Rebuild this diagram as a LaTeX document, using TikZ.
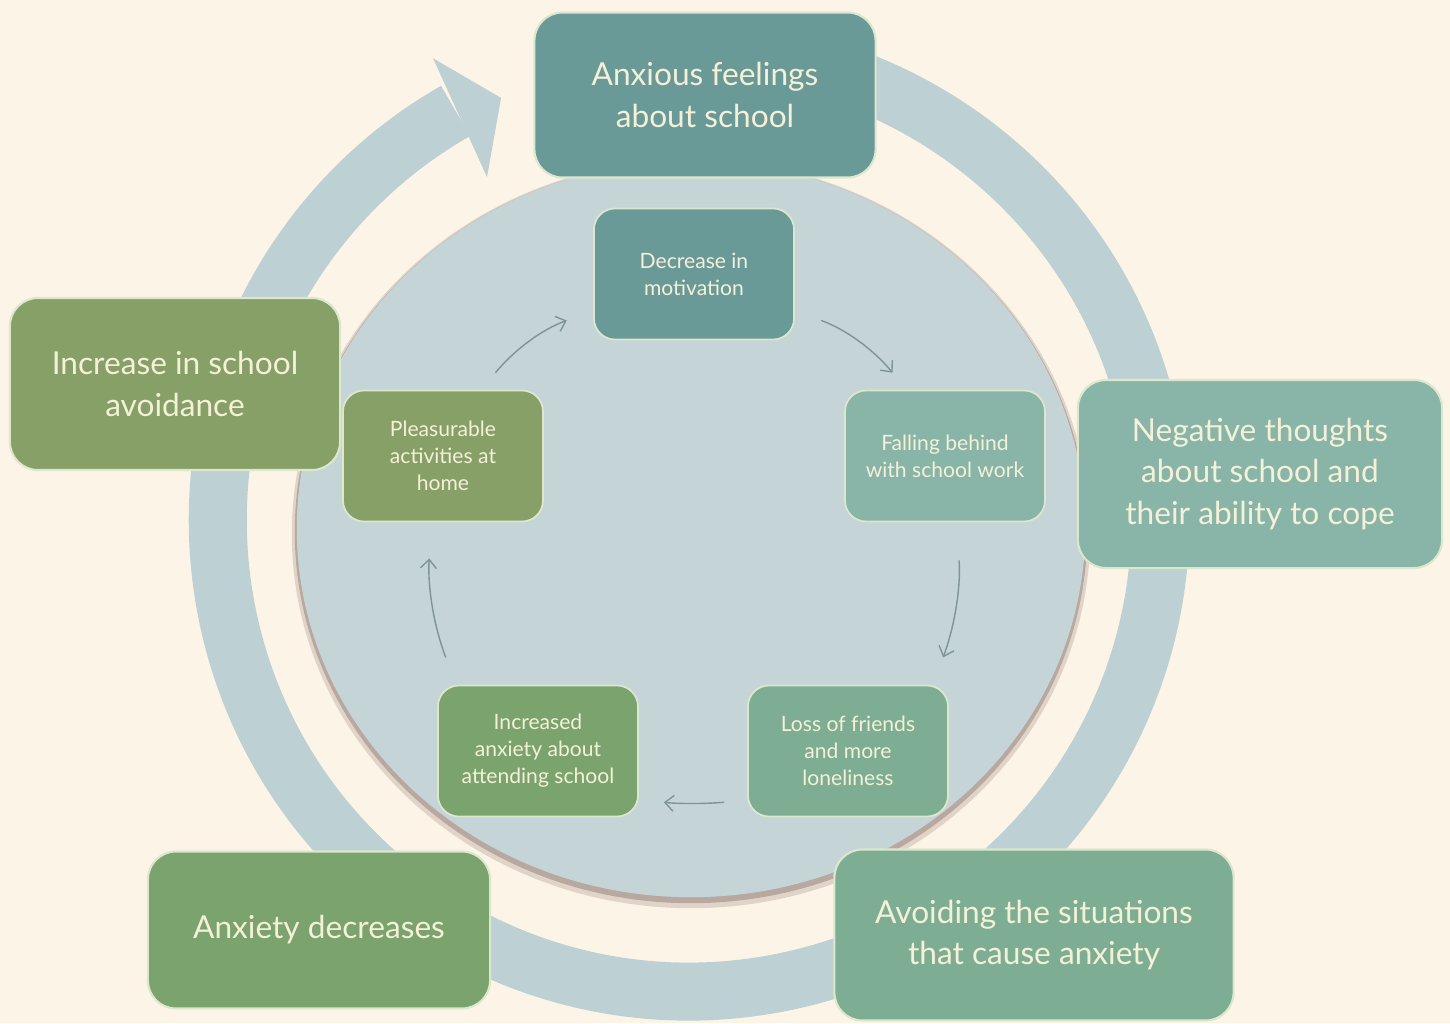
\documentclass[tikz,border=0pt]{standalone}
\usepackage{fontspec}
\setmainfont{Lato}
\usetikzlibrary{arrows.meta}
\definecolor{bgcol}{HTML}{FDF4E8}
\definecolor{ringcol}{HTML}{BDD0D3}
\definecolor{diskcol}{HTML}{C5D4D6}
\definecolor{shadowcol}{HTML}{9E8C84}
\definecolor{tealcol}{HTML}{699A98}
\definecolor{olivecol}{HTML}{86A068}
\definecolor{sagecol}{HTML}{88B5A8}
\definecolor{mintcol}{HTML}{7DAE93}
\definecolor{leafcol}{HTML}{7AA36D}
\definecolor{txtcol}{HTML}{F5F0D8}
\definecolor{boxline}{HTML}{DCE7CE}
\definecolor{flowcol}{HTML}{7F9494}
\begin{document}
\begin{tikzpicture}[x=0.01cm, y=0.01cm,
    bigbox/.style={draw=boxline, line width=0.6pt, rounded corners=8pt, inner sep=0pt, text=txtcol, align=center, font=\fontsize{9}{11.8}\selectfont},
    smallbox/.style={draw=boxline, line width=0.5pt, rounded corners=6pt, inner sep=0pt, text=txtcol, align=center, minimum width=2cm, minimum height=1.31cm, font=\fontsize{6}{7.7}\selectfont},
    arrow/.style={-{Straight Barb[length=2.5pt, width=4.5pt]}, draw=flowcol, line width=0.4pt}
]
    \useasboundingbox (0,0) rectangle (1450,1023);
    \fill[bgcol] (0,0) rectangle (1450,1023);

    \coordinate (hub) at (689,503);
    \draw[ringcol, line width=0.58cm] ([shift={(100:471)}]hub) arc[start angle=100, end angle=-240.3, radius=4.71cm];
    \fill[ringcol] ([shift={(119:528)}]hub) -- ([shift={(114:462)}]hub) -- ([shift={(120.5:398)}]hub) -- cycle;

    \fill[shadowcol, opacity=0.3] (691,489) ellipse[x radius=3.99cm, y radius=3.74cm];
    \fill[shadowcol, opacity=0.6] (691,491) ellipse[x radius=3.96cm, y radius=3.71cm];
    \fill[diskcol] (691,494) ellipse[x radius=3.94cm, y radius=3.68cm];

    \node[bigbox, fill=tealcol, minimum width=3.41cm, minimum height=1.65cm] (anxious) at (705,928) {Anxious feelings\\about school};
    \node[bigbox, fill=olivecol, minimum width=3.3cm, minimum height=1.72cm] (avoidance) at (175,639) {Increase in school\\avoidance};
    \node[bigbox, fill=sagecol, minimum width=3.64cm, minimum height=1.88cm] (negative) at (1260,549) {Negative thoughts\\about school and\\their ability to cope};
    \node[bigbox, fill=leafcol, minimum width=3.42cm, minimum height=1.57cm] (decreases) at (319,93) {Anxiety decreases};
    \node[bigbox, fill=mintcol, minimum width=3.99cm, minimum height=1.71cm] (avoiding) at (1034,88) {Avoiding the situations\\that cause anxiety};

    \node[smallbox, fill=tealcol] (motivation) at (694,749) {Decrease in\\motivation};
    \node[smallbox, fill=sagecol] (fallbehind) at (945,567) {Falling behind\\with school work};
    \node[smallbox, fill=mintcol] (loneliness) at (848,272) {Loss of friends\\and more\\loneliness};
    \node[smallbox, fill=leafcol] (worry) at (538,272) {Increased\\anxiety about\\attending school};
    \node[smallbox, fill=olivecol] (pleasure) at (443,567) {Pleasurable\\activities at\\home};

    \draw[arrow, shorten <=0.22cm, shorten >=0.28cm] (pleasure.60) to[bend left=15] (motivation.200);
    \draw[arrow, shorten <=0.28cm, shorten >=0.22cm] (motivation.-20) to[bend left=15] (fallbehind.120);
    \draw[arrow, shorten <=0.38cm, shorten >=0.29cm] (fallbehind.-80) to[bend left=12] (loneliness.38);
    \draw[arrow, shorten <=0.23cm, shorten >=0.25cm] (loneliness.206) to[bend left=5] (worry.-26);
    \draw[arrow, shorten <=0.29cm, shorten >=0.36cm] (worry.141) to[bend left=12] (pleasure.260);
\end{tikzpicture}
\end{document}
